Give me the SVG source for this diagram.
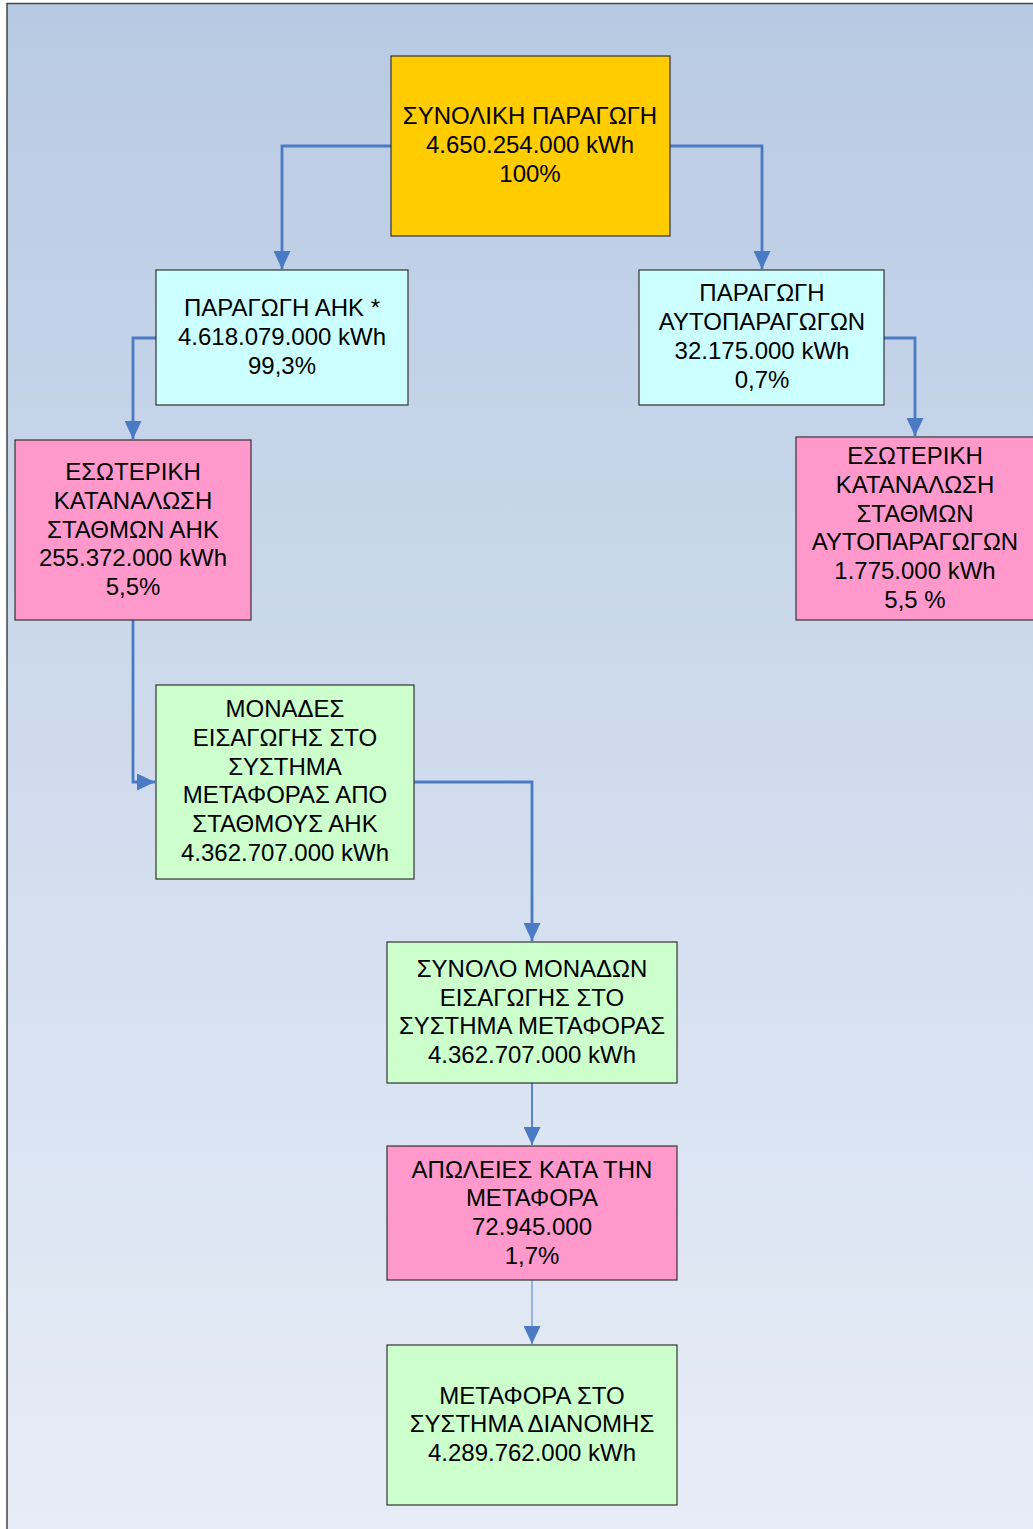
<svg xmlns="http://www.w3.org/2000/svg" width="1033" height="1529" viewBox="0 0 1033 1529">
<defs>
<linearGradient id="bg" x1="0" y1="0" x2="0" y2="1">
<stop offset="0" stop-color="#b8cae3"/>
<stop offset="1" stop-color="#e7edf7"/>
</linearGradient>
<marker id="ah" viewBox="0 0 18 17" refX="18" refY="8.5" markerWidth="18" markerHeight="17" markerUnits="userSpaceOnUse" orient="auto">
<path d="M0,0 L18,8.5 L0,17 Z" fill="#4a7ac4"/>
</marker>
</defs>
<style>
.n rect{stroke:#333;stroke-width:1.2}
.n text{font-family:"Liberation Sans",Arial,sans-serif;font-size:24px;fill:#000;text-anchor:middle}
.y{fill:#ffcc00}
.c{fill:#ccffff}
.p{fill:#ff99cc}
.g{fill:#ccffcc}
.e{fill:none;stroke:#4a7ac4;stroke-width:2.8}
</style>
<rect x="0" y="0" width="1033" height="1529" fill="#fff"/>
<rect x="7" y="3.5" width="1030" height="1530" fill="url(#bg)" stroke="#444" stroke-width="1.5"/>
<g id="connectors">
<path class="e" d="M391,146 H282 V269" marker-end="url(#ah)"/>
<path class="e" d="M670,146 H762 V269" marker-end="url(#ah)"/>
<path class="e" d="M156,338 H133 V439" marker-end="url(#ah)"/>
<path class="e" d="M884,338 H915 V436" marker-end="url(#ah)"/>
<path class="e" d="M133,620 V782 H155" marker-end="url(#ah)"/>
<path class="e" d="M414,782 H532 V941" marker-end="url(#ah)"/>
<path class="e" style="stroke-width:1.8" d="M532,1083 V1145" marker-end="url(#ah)"/>
<path class="e" style="stroke-width:1" d="M532,1280 V1344" marker-end="url(#ah)"/>
</g>
<g id="n1" class="n"><rect class="y" x="391" y="56" width="279" height="180"/>
<text x="530" y="124">ΣΥΝΟΛΙΚΗ ΠΑΡΑΓΩΓΗ</text><text x="530" y="153">4.650.254.000 kWh</text><text x="530" y="182">100%</text></g>
<g id="n2" class="n"><rect class="c" x="156" y="270" width="252" height="135"/>
<text x="282" y="316">ΠΑΡΑΓΩΓΗ ΑΗΚ *</text><text x="282" y="345">4.618.079.000 kWh</text><text x="282" y="374">99,3%</text></g>
<g id="n3" class="n"><rect class="c" x="639" y="270" width="245" height="135"/>
<text x="762" y="301">ΠΑΡΑΓΩΓΗ</text><text x="762" y="330">ΑΥΤΟΠΑΡΑΓΩΓΩΝ</text><text x="762" y="359">32.175.000 kWh</text><text x="762" y="388">0,7%</text></g>
<g id="n4" class="n"><rect class="p" x="15" y="440" width="236" height="180"/>
<text x="133" y="480">ΕΣΩΤΕΡΙΚΗ</text><text x="133" y="509">ΚΑΤΑΝΑΛΩΣΗ</text><text x="133" y="538">ΣΤΑΘΜΩΝ ΑΗΚ</text><text x="133" y="566">255.372.000 kWh</text><text x="133" y="595">5,5%</text></g>
<g id="n5" class="n"><rect class="p" x="796" y="437" width="240" height="183"/>
<text x="915" y="464">ΕΣΩΤΕΡΙΚΗ</text><text x="915" y="493">ΚΑΤΑΝΑΛΩΣΗ</text><text x="915" y="522">ΣΤΑΘΜΩΝ</text><text x="915" y="550">ΑΥΤΟΠΑΡΑΓΩΓΩΝ</text><text x="915" y="579">1.775.000 kWh</text><text x="915" y="608">5,5 %</text></g>
<g id="n6" class="n"><rect class="g" x="156" y="685" width="258" height="194"/>
<text x="285" y="717">ΜΟΝΑΔΕΣ</text><text x="285" y="746">ΕΙΣΑΓΩΓΗΣ ΣΤΟ</text><text x="285" y="775">ΣΥΣΤΗΜΑ</text><text x="285" y="803">ΜΕΤΑΦΟΡΑΣ ΑΠΟ</text><text x="285" y="832">ΣΤΑΘΜΟΥΣ ΑΗΚ</text><text x="285" y="861">4.362.707.000 kWh</text></g>
<g id="n7" class="n"><rect class="g" x="387" y="942" width="290" height="141"/>
<text x="532" y="977">ΣΥΝΟΛΟ ΜΟΝΑΔΩΝ</text><text x="532" y="1006">ΕΙΣΑΓΩΓΗΣ ΣΤΟ</text><text x="532" y="1034">ΣΥΣΤΗΜΑ ΜΕΤΑΦΟΡΑΣ</text><text x="532" y="1063">4.362.707.000 kWh</text></g>
<g id="n8" class="n"><rect class="p" x="387" y="1146" width="290" height="134"/>
<text x="532" y="1178">ΑΠΩΛΕΙΕΣ ΚΑΤΑ ΤΗΝ</text><text x="532" y="1206">ΜΕΤΑΦΟΡΑ</text><text x="532" y="1235">72.945.000</text><text x="532" y="1264">1,7%</text></g>
<g id="n9" class="n"><rect class="g" x="387" y="1345" width="290" height="160"/>
<text x="532" y="1404">ΜΕΤΑΦΟΡΑ ΣΤΟ</text><text x="532" y="1432">ΣΥΣΤΗΜΑ ΔΙΑΝΟΜΗΣ</text><text x="532" y="1461">4.289.762.000 kWh</text></g>
</svg>
